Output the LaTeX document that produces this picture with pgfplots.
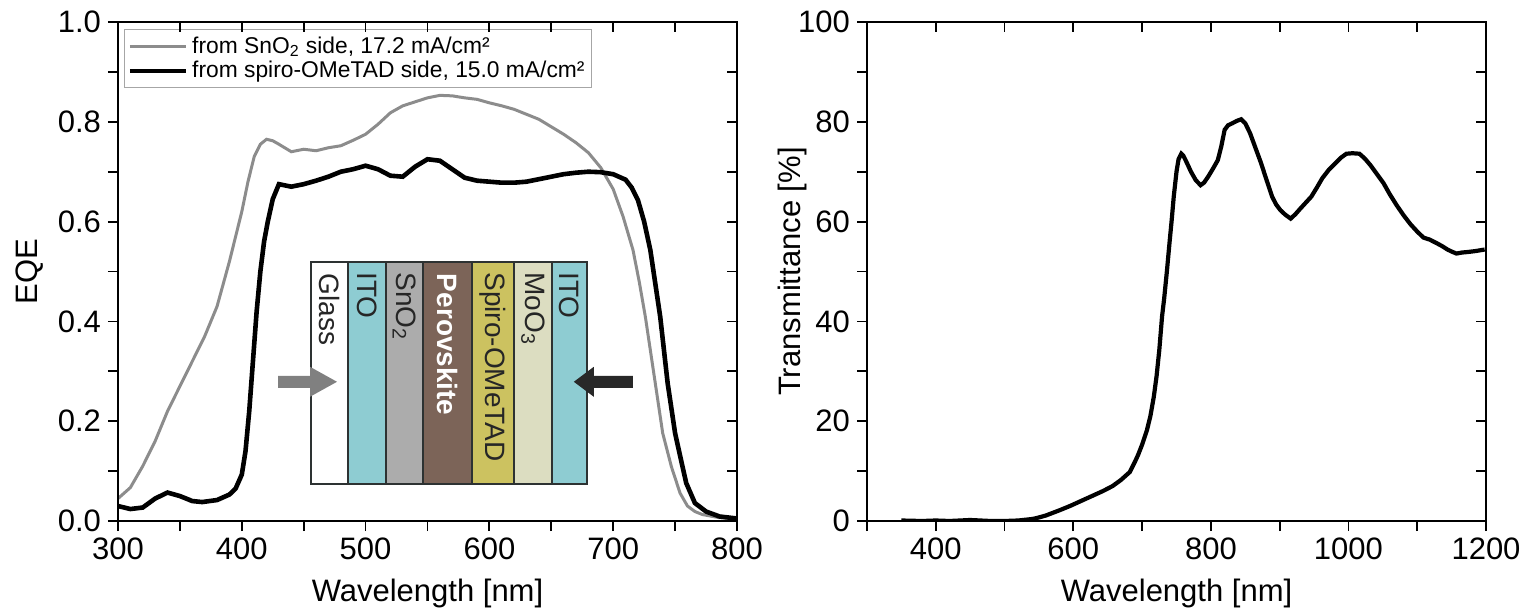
\documentclass[border=0pt]{standalone}
\usepackage{fontspec}
\setmainfont{Liberation Sans}
\usepackage{pgfplots}
\pgfplotsset{compat=1.18}

\definecolor{eqegray}{RGB}{140,140,140}
\definecolor{itoblue}{RGB}{142,204,210}
\definecolor{snogray}{RGB}{172,172,172}
\definecolor{perobrown}{RGB}{124,100,88}
\definecolor{spiroyel}{RGB}{204,194,96}
\definecolor{moobeige}{RGB}{220,221,193}
\definecolor{edgec}{RGB}{45,50,50}
\definecolor{arrowgray}{RGB}{128,128,128}
\definecolor{arrowdark}{RGB}{40,40,40}

\pgfplotsset{
  panel/.style={
    scale only axis, width=309.5pt, height=249.5pt,
    at={(0,0)}, anchor=south west,
    axis line style={line width=0.9pt},
    every tick/.style={line width=0.9pt, black},
    major tick length=5pt, minor tick length=5pt,
    tick label style={font=\fontsize{15.5}{18}\selectfont},
    /pgf/number format/assume math mode=true,
    /pgf/number format/set thousands separator={},
  },
  outer ticks/.style={panel, tick align=outside, xtick pos=left, ytick pos=left},
  inner ticks/.style={panel, tick align=inside, xtick pos=right, ytick pos=right,
    xticklabels={}, yticklabels={}},
}

% EQE, illumination from the SnO2 side
\pgfplotstableread{
wl eqe
300 0.045
310 0.067
320 0.110
330 0.160
340 0.220
350 0.270
360 0.320
370 0.370
380 0.430
390 0.520
400 0.620
405 0.680
410 0.730
415 0.755
420 0.765
425 0.762
430 0.755
440 0.740
450 0.745
460 0.742
470 0.748
480 0.752
490 0.763
500 0.775
510 0.795
520 0.818
530 0.832
540 0.840
550 0.848
560 0.853
570 0.852
580 0.848
590 0.845
600 0.838
610 0.832
620 0.825
630 0.815
640 0.805
650 0.790
660 0.775
670 0.758
680 0.738
690 0.708
700 0.665
708 0.610
716 0.543
721 0.480
726 0.409
734 0.276
740 0.176
747 0.109
754 0.056
760 0.030
766 0.019
772 0.013
785 0.007
800 0.004
}\eqesno

% EQE, illumination from the spiro-OMeTAD side
\pgfplotstableread{
wl eqe
300 0.030
305 0.027
310 0.024
320 0.027
330 0.045
340 0.057
350 0.050
360 0.040
368 0.038
380 0.042
390 0.053
395 0.065
400 0.093
403 0.140
406 0.220
409 0.320
412 0.420
415 0.500
418 0.560
421 0.600
425 0.645
430 0.675
440 0.670
450 0.675
460 0.682
470 0.690
480 0.700
490 0.705
500 0.712
510 0.705
520 0.692
530 0.690
540 0.710
550 0.725
560 0.722
570 0.705
580 0.688
590 0.682
600 0.680
610 0.678
620 0.678
630 0.680
640 0.685
650 0.690
660 0.695
670 0.698
680 0.700
690 0.699
700 0.695
710 0.684
715 0.668
720 0.643
725 0.600
730 0.543
738 0.409
744 0.276
750 0.176
755 0.120
759 0.076
766 0.036
775 0.019
786 0.009
800 0.005
}\eqespiro

% Transmittance of the semitransparent cell
\pgfplotstableread{
wl T
350 0.1
380 0.0
400 0.1
420 0.0
450 0.2
480 0.0
500 0.0
520 0.1
540 0.4
547 0.6
560 1.1
579 2.1
595 3.0
611 4.0
627 5.0
643 6.0
657 7.0
669 8.2
682 9.8
690 12.0
694 13.2
700 15.3
707 18.2
712 21.0
717 24.9
721 29.0
725 34.3
729 41.0
732 44.5
736 50.0
740 56.0
743 60.3
746 65.0
750 70.0
753 72.5
757 73.6
760 73.2
765 71.8
771 70.0
778 68.3
785 67.3
790 67.8
796 69.0
803 70.6
810 72.3
815 75.0
820 78.4
825 79.3
831 79.7
838 80.2
844 80.5
850 79.7
857 77.7
865 74.7
873 71.7
881 68.3
889 65.0
895 63.4
901 62.3
908 61.4
916 60.6
923 61.5
930 62.6
938 63.8
946 65.0
954 66.8
962 68.7
971 70.3
981 71.7
989 72.8
997 73.6
1006 73.7
1016 73.6
1024 72.6
1032 71.3
1041 69.6
1051 67.7
1060 65.5
1070 63.3
1080 61.3
1090 59.5
1100 58.0
1109 56.8
1118 56.4
1128 55.7
1136 55.1
1144 54.4
1150 54.0
1157 53.6
1165 53.8
1173 53.9
1185 54.1
1198 54.4
}\trans

\begin{document}
\begin{tikzpicture}
% ---------------- left panel: EQE ----------------
\begin{axis}[outer ticks,
  xmin=300, xmax=800, ymin=0, ymax=1,
  xtick={300,400,...,800}, minor xtick={350,450,...,750},
  ytick={0,0.2,...,1.0}, minor ytick={0.1,0.3,...,0.9},
  yticklabel style={/pgf/number format/.cd, fixed, fixed zerofill, precision=1},
  xlabel={Wavelength [nm]}, ylabel={EQE},
  every axis x label/.style={at={(axis description cs:0.5,-0.145)}, anchor=center,
    font=\fontsize{15.5}{18}\selectfont},
  every axis y label/.style={at={(axis description cs:-0.143,0.5)}, anchor=center, rotate=90,
    font=\fontsize{15.5}{18}\selectfont},
  legend style={at={(0.0097,0.986)}, anchor=north west, draw=gray!70, line width=0.6pt,
    font=\fontsize{11.4}{13}\selectfont, inner sep=1.5pt, row sep=-1.5pt},
  legend cell align=left,
  legend image code/.code={\draw[#1] (0pt,0pt) -- (28pt,0pt);},
]
\addplot[eqegray, line width=1.5pt] table[x=wl, y=eqe] {\eqesno};
\addlegendentry{from SnO\textsubscript{2} side, 17.2 mA/cm²}
\addplot[black, line width=2.3pt] table[x=wl, y=eqe] {\eqespiro};
\addlegendentry{from spiro-OMeTAD side, 15.0 mA/cm²}

% device stack
\filldraw[draw=edgec, line width=0.8pt, fill=white]     (axis cs:455.9,0.074) rectangle (axis cs:485.8,0.519);
\filldraw[draw=edgec, line width=0.8pt, fill=itoblue]   (axis cs:485.8,0.074) rectangle (axis cs:516.5,0.519);
\filldraw[draw=edgec, line width=0.8pt, fill=snogray]   (axis cs:516.5,0.074) rectangle (axis cs:546.4,0.519);
\filldraw[draw=edgec, line width=0.8pt, fill=perobrown] (axis cs:546.4,0.074) rectangle (axis cs:586.0,0.519);
\filldraw[draw=edgec, line width=0.8pt, fill=spiroyel]  (axis cs:586.0,0.074) rectangle (axis cs:619.9,0.519);
\filldraw[draw=edgec, line width=0.8pt, fill=moobeige]  (axis cs:619.9,0.074) rectangle (axis cs:650.6,0.519);
\filldraw[draw=edgec, line width=0.8pt, fill=itoblue]   (axis cs:650.6,0.074) rectangle (axis cs:678.8,0.519);
\draw[draw=edgec, line width=1.2pt] (axis cs:455.9,0.074) rectangle (axis cs:678.8,0.519);
\begin{scope}[every node/.style={rotate=-90, anchor=west, inner sep=0pt,
    font=\fontsize{14}{16}\selectfont, text=black!85}]
\node at (axis cs:470.9,0.496) {Glass};
\node at (axis cs:501.2,0.499) {ITO};
\node at (axis cs:531.5,0.499) {SnO\textsubscript{2}};
\node[text=white, font=\fontsize{14}{16}\selectfont\bfseries] at (axis cs:566.2,0.496) {Perovskite};
\node at (axis cs:603.0,0.499) {Spiro-OMeTAD};
\node at (axis cs:635.3,0.499) {MoO\textsubscript{3}};
\node at (axis cs:664.7,0.499) {ITO};
\end{scope}
% illumination arrows
\fill[arrowgray] (axis cs:429.3,0.267) -- (axis cs:455.1,0.267) -- (axis cs:455.1,0.249)
  -- (axis cs:476.9,0.279) -- (axis cs:455.1,0.309) -- (axis cs:455.1,0.291)
  -- (axis cs:429.3,0.291) -- cycle;
\fill[arrowdark] (axis cs:715.8,0.267) -- (axis cs:684.3,0.267) -- (axis cs:684.3,0.249)
  -- (axis cs:668.2,0.279) -- (axis cs:684.3,0.309) -- (axis cs:684.3,0.291)
  -- (axis cs:715.8,0.291) -- cycle;
\end{axis}
\begin{axis}[inner ticks,
  xmin=300, xmax=800, ymin=0, ymax=1,
  xtick={300,400,...,800}, minor xtick={350,450,...,750},
  ytick={0,0.2,...,1.0}, minor ytick={0.1,0.3,...,0.9}]
\end{axis}

% ---------------- right panel: transmittance ----------------
\begin{scope}[xshift=374.5pt]
\begin{axis}[outer ticks,
  xmin=300, xmax=1200, ymin=0, ymax=100,
  xtick={400,600,...,1200}, minor xtick={300,500,...,1100},
  ytick={0,20,...,100}, minor ytick={10,30,...,90},
  xlabel={Wavelength [nm]}, ylabel={Transmittance [\%]},
  every axis x label/.style={at={(axis description cs:0.5,-0.145)}, anchor=center,
    font=\fontsize{15.5}{18}\selectfont},
  every axis y label/.style={at={(axis description cs:-0.121,0.5)}, anchor=center, rotate=90,
    font=\fontsize{15.5}{18}\selectfont},
]
\addplot[black, line width=2.1pt] table[x=wl, y=T] {\trans};
\end{axis}
\begin{axis}[inner ticks,
  xmin=300, xmax=1200, ymin=0, ymax=100,
  xtick={400,600,...,1200}, minor xtick={300,500,...,1100},
  ytick={0,20,...,100}, minor ytick={10,30,...,90}]
\end{axis}
\end{scope}

\pgfresetboundingbox
\path[use as bounding box] (-59pt,-45.5pt) rectangle (704pt,260.5pt);
\end{tikzpicture}
\end{document}
